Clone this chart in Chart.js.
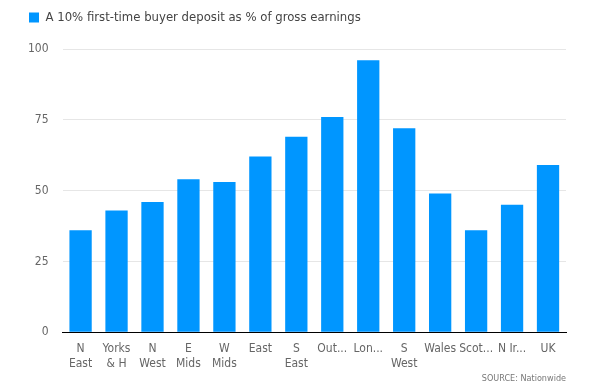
<!DOCTYPE html>
<html>
<head>
<meta charset="utf-8">
<script src="https://cdn.jsdelivr.net/npm/chart.js@4"></script>
<style>
  body { margin: 0; background: #fff; }
  #wrap { width: 612px; height: 388px; }
</style>
</head>
<body>
<div id="wrap"><canvas id="barChart"></canvas></div>
<script>
const regions = [['N', 'East'], ['Yorks', '& H'], ['N', 'West'], ['E', 'Mids'], ['W', 'Mids'], 'East', ['S', 'East'],
  'Out...', 'Lon...', ['S', 'West'], 'Wales', 'Scot...', 'N Ir...', 'UK']
const deposit = [36, 43, 46, 54, 53, 62, 69, 76, 96, 72, 49, 36, 45, 59]
const yTicks = [0, 25, 50, 75, 100]

const FONT = '"DejaVu Sans Condensed", "DejaVu Sans", sans-serif'
Chart.defaults.font.family = FONT
Chart.defaults.color = '#666'

const CHART = document.getElementById('barChart')

// extra room between the legend line and the plot
const legendGap = {
  id: 'legendGap',
  beforeInit (chart) {
    const fit = chart.legend.fit
    chart.legend.fit = function () {
      fit.bind(chart.legend)()
      this.height += 15
    }
  }
}

new Chart(CHART, {
  type: 'bar',
  plugins: [legendGap],
  data: {
    labels: regions,
    datasets: [
      {
        label: 'A 10% first-time buyer deposit as % of gross earnings',
        backgroundColor: '#0096ff',
        data: deposit,
        categoryPercentage: 1,
        barPercentage: 0.62
      }
    ]
  },
  options: {
    responsive: true,
    maintainAspectRatio: false,
    animation: false,
    layout: { padding: { left: 14, right: 46, top: -4, bottom: 4 } },
    plugins: {
      legend: {
        position: 'top',
        align: 'start',
        labels: { boxWidth: 10, boxHeight: 10, color: '#444', font: { size: 13 }, padding: 15 }
      },
      subtitle: {
        display: true,
        position: 'bottom',
        align: 'end',
        text: 'SOURCE: Nationwide',
        color: '#777',
        font: { size: 9 },
        padding: 0
      },
      tooltip: { enabled: false }
    },
    scales: {
      x: {
        grid: { display: false, drawTicks: false },
        border: { display: true, color: '#000', width: 1 },
        ticks: { font: { size: 12, lineHeight: 1.25 }, padding: 9, maxRotation: 0, autoSkip: false },
        afterFit: axis => { axis.height = 41 }
      },
      y: {
        min: 0,
        max: 100,
        afterBuildTicks: axis => { axis.ticks = yTicks.map(v => ({ value: v })) },
        grid: { color: '#e6e6e6', drawTicks: false },
        border: { display: false },
        ticks: { font: { size: 12 }, padding: 14 }
      }
    }
  }
})
</script>
</body>
</html>
